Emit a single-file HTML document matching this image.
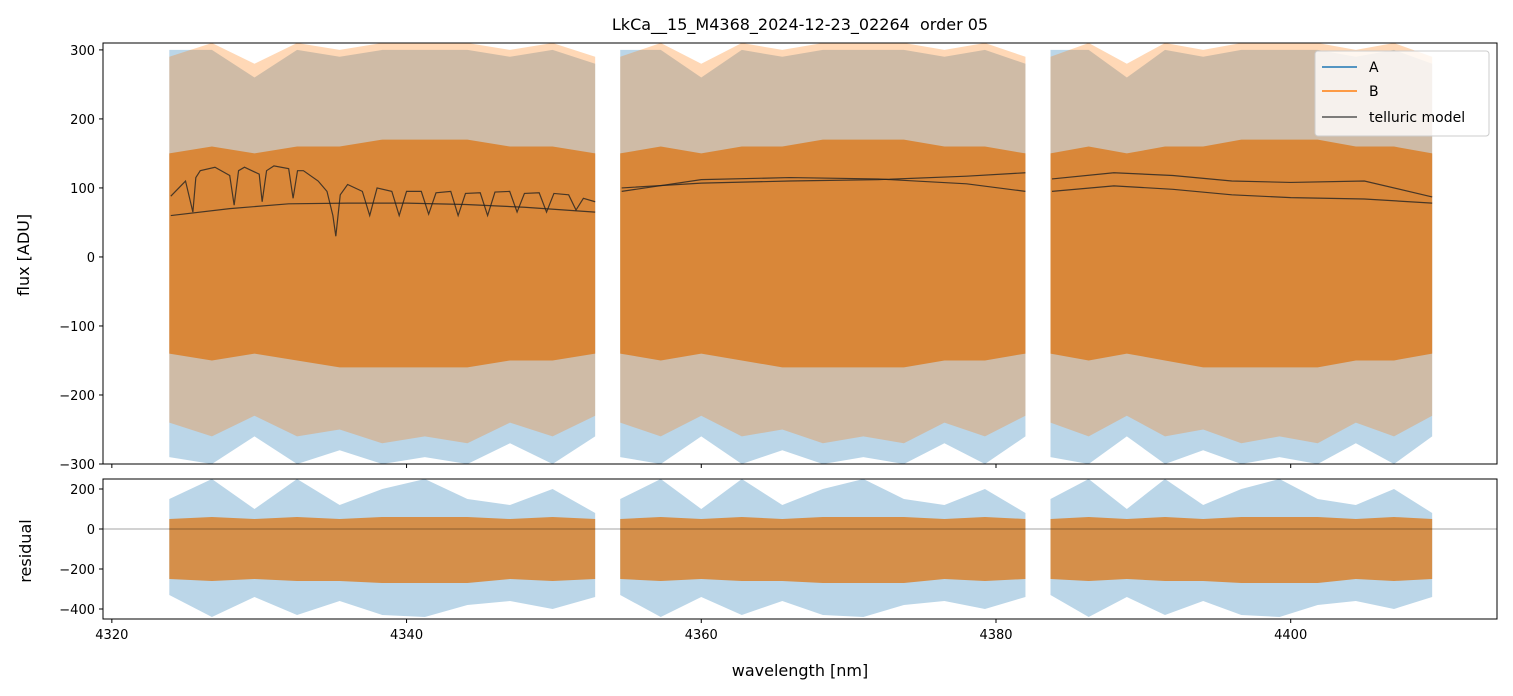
<!DOCTYPE html>
<html><head><meta charset="utf-8"><style>
body{margin:0;background:#fff;font-family:"Liberation Sans","DejaVu Sans",sans-serif}
svg{display:block}
</style></head><body>
<svg id="chart" width="1513" height="696" xmlns="http://www.w3.org/2000/svg" font-family="DejaVu Sans, Liberation Sans, sans-serif">
<text x="800" y="30" text-anchor="middle" font-size="16">LkCa__15_M4368_2024-12-23_02264&#160; order 05</text>
<g id="gtop"></g><g id="gbot"></g>
<text transform="translate(29,255) rotate(-90)" text-anchor="middle" font-size="16">flux [ADU]</text>
<text transform="translate(31,551) rotate(-90)" text-anchor="middle" font-size="16">residual</text>
<text x="800" y="676" text-anchor="middle" font-size="16">wavelength [nm]</text>
<g id="legend">
<rect x="1315" y="51" width="174" height="85" rx="3" fill="#fff" fill-opacity="0.8" stroke="#ccc"/>
<line x1="1322" y1="67" x2="1357" y2="67" stroke="#1f77b4" stroke-width="1.5"/><text x="1369" y="72" font-size="14">A</text>
<line x1="1322" y1="91" x2="1357" y2="91" stroke="#ff7f0e" stroke-width="1.5"/><text x="1369" y="96" font-size="14">B</text>
<line x1="1322" y1="117" x2="1357" y2="117" stroke="#555" stroke-width="1.5"/><text x="1369" y="122" font-size="14">telluric model</text>
</g>
</svg>
<script>
const segments=[[4323.9,4352.8],[4354.5,4382],[4383.7,4409.6]];
const bandWl=[0,0.1,0.2,0.3,0.4,0.5,0.6,0.7,0.8,0.9,1];
const blueHi=[300,300,260,300,290,300,300,300,290,300,280];
const blueLo=[-290,-300,-260,-300,-280,-300,-290,-300,-270,-300,-260];
const orangeHi=[290,310,280,310,300,310,310,310,300,310,290];
const orangeLo=[-240,-260,-230,-260,-250,-270,-260,-270,-240,-260,-230];
const coreHi=[150,160,150,160,160,170,170,170,160,160,150];
const coreLo=[-140,-150,-140,-150,-160,-160,-160,-160,-150,-150,-140];
const resBlueHi=[150,250,100,250,120,200,250,150,120,200,80];
const resBlueLo=[-330,-440,-340,-430,-360,-430,-440,-380,-360,-400,-340];
const resCoreHi=[50,60,50,60,50,60,60,60,50,60,50];
const resCoreLo=[-250,-260,-250,-260,-260,-270,-270,-270,-250,-260,-250];
const tell1aWl=[4324,4328,4332,4336,4340,4344,4348,4352.8];
const tell1aV=[60,70,77,78,78,76,72,65];
const tell1bWl=[4324,4325,4325.5,4325.7,4326,4327,4328,4328.3,4328.6,4329,4330,4330.2,4330.5,4331,4332,4332.3,4332.6,4333,4334,4334.6,4335,4335.2,4335.5,4336,4337,4337.5,4338,4339,4339.5,4340,4341,4341.5,4342,4343,4343.5,4344,4345,4345.5,4346,4347,4347.5,4348,4349,4349.5,4350,4351,4351.5,4352,4352.8];
const tell1bV=[88,110,65,115,125,130,118,75,125,130,120,80,125,132,128,85,125,125,110,95,60,30,90,105,95,60,100,95,60,95,95,62,93,95,60,92,93,60,94,95,65,92,93,65,92,90,68,85,80];
const tell2aWl=[4354.6,4360,4366,4372,4378,4382];
const tell2aV=[100,107,110,112,117,122];
const tell2bWl=[4354.6,4360,4366,4372,4378,4382];
const tell2bV=[95,112,115,113,106,95];
const tell3aWl=[4383.8,4388,4392,4396,4400,4405,4409.6];
const tell3aV=[113,122,118,110,108,110,87];
const tell3bWl=[4383.8,4388,4392,4396,4400,4405,4409.6];
const tell3bV=[95,103,98,90,86,84,78];
const xTicks=[4320,4340,4360,4380,4400];
const yTicksTop=[300,200,100,0,-100,-200,-300];
const yTicksBot=[200,0,-200,-400];

const NS="http://www.w3.org/2000/svg";
const L=103,R=1497;
const x=w=>L+(w-4319.4)*(R-L)/(4414-4319.4);
const yT=v=>464-(v+300)*(464-43)/610;
const yB=v=>619-(v+450)*(619-479)/700;
function el(p,t,a){const e=document.createElementNS(NS,t);for(const k in a)e.setAttribute(k,a[k]);p.appendChild(e);return e;}
function band(g,seg,hi,lo,ys,col,op,name){
  const a=seg[0],b=seg[1];let pts=[];
  bandWl.forEach((f,i)=>pts.push(x(a+f*(b-a))+","+ys(hi[i])));
  for(let i=bandWl.length-1;i>=0;i--)pts.push(x(a+bandWl[i]*(b-a))+","+ys(lo[i]));
  const p=el(g,"polygon",{points:pts.join(" "),fill:col,"fill-opacity":op});
  
  
}
function line(g,wl,v,ys,name){
  const p=el(g,"polyline",{points:wl.map((w,i)=>x(w)+","+ys(v[i])).join(" "),fill:"none",stroke:"#222","stroke-opacity":0.8,"stroke-width":1.2});
  
  
}
function axes(g,t0,b0,ys,yt,showX,clipId){
  const d=el(g,"defs",{});const c=el(d,"clipPath",{id:clipId});el(c,"rect",{x:L,y:t0,width:R-L,height:b0-t0});
  const pg=el(g,"g",{"clip-path":"url(#"+clipId+")"});
  yt.forEach(v=>{el(g,"line",{x1:L-4,x2:L,y1:ys(v),y2:ys(v),stroke:"#000"});
    const t=el(g,"text",{x:L-8,y:ys(v)+5,"text-anchor":"end","font-size":13});t.textContent=v<0?"\u2212"+(-v):v;
    
    });
  xTicks.forEach(w=>{el(g,"line",{x1:x(w),x2:x(w),y1:b0,y2:b0+4,stroke:"#000"});
    if(showX){const t=el(g,"text",{x:x(w),y:b0+20,"text-anchor":"middle","font-size":13});t.textContent=w;
      
      }});
  return pg;
}
const gTop=document.getElementById("gtop"),gBot=document.getElementById("gbot");
const pt=axes(gTop,43,464,yT,yTicksTop,false,"ct");
const pb=axes(gBot,479,619,yB,yTicksBot,true,"cb");
segments.forEach((s,i)=>{
  band(pt,s,blueHi,blueLo,yT,"#1f77b4",0.3,"series-a-segment-"+i);
  band(pt,s,orangeHi,orangeLo,yT,"#ff7f0e",0.3,"series-b-segment-"+i);
  band(pt,s,coreHi,coreLo,yT,"#d9822e",0.9,"series-b-core-"+i);
  band(pb,s,resBlueHi,resBlueLo,yB,"#1f77b4",0.3,"residual-a-segment-"+i);
  band(pb,s,resCoreHi,resCoreLo,yB,"#d9822e",0.85,"residual-b-core-"+i);
});
line(pt,tell1aWl,tell1aV,yT,"telluric-model-1a");line(pt,tell1bWl,tell1bV,yT,"telluric-model-1b");
line(pt,tell2aWl,tell2aV,yT,"telluric-model-2a");line(pt,tell2bWl,tell2bV,yT,"telluric-model-2b");
line(pt,tell3aWl,tell3aV,yT,"telluric-model-3a");line(pt,tell3bWl,tell3bV,yT,"telluric-model-3b");
el(pb,"line",{x1:L,x2:R,y1:yB(0),y2:yB(0),stroke:"#000","stroke-width":0.6,"stroke-opacity":0.7});
el(gTop,"rect",{x:L,y:43,width:R-L,height:421,fill:"none",stroke:"#000"});
el(gBot,"rect",{x:L,y:479,width:R-L,height:140,fill:"none",stroke:"#000"});
document.getElementById("chart").appendChild(document.getElementById("legend"));
</script>
</body></html>
